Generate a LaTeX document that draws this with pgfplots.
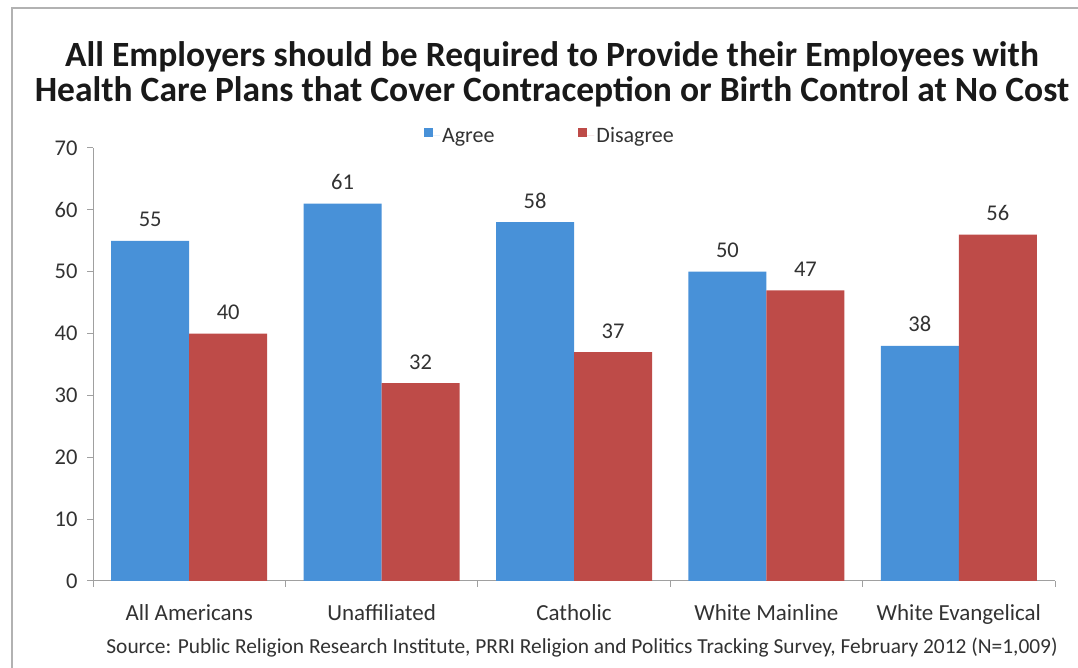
\documentclass[border=0pt]{standalone}
\usepackage{fontspec}
\setmainfont{Carlito}
\usepackage{pgfplots}
\pgfplotsset{compat=1.18}
\definecolor{agree}{RGB}{72,145,216}
\definecolor{disagree}{RGB}{190,75,72}
\definecolor{axisgray}{RGB}{160,160,160}
\definecolor{txt}{RGB}{50,50,50}
\begin{document}
\begin{tikzpicture}
\useasboundingbox (0pt,0pt) rectangle (1078pt,668pt);
\draw[gray!60, line width=1.5pt] (12pt,-5pt) -- (12pt,660pt) -- (1090pt,660pt);
\node[anchor=base, font=\fontsize{35.5}{40}\selectfont\bfseries, text=black!90] at (552pt,601pt) {All Employers should be Required to Provide their Employees with};
\node[anchor=base, font=\fontsize{35.5}{40}\selectfont\bfseries, text=black!90] at (552pt,566pt) {Health Care Plans that Cover Contraception or Birth Control at No Cost};
\node[anchor=base, font=\fontsize{21.4}{24}\selectfont, text=txt] at (582pt,14pt) {Source: Public Religion Research Institute, PRRI Religion and Politics Tracking Survey, February 2012 (N=1,009)};
\begin{axis}[
  at={(93pt,87pt)}, anchor=south west,
  scale only axis, width=962pt, height=433pt,
  ymin=0, ymax=70, ytick={0,10,...,70},
  xmin=-0.5, xmax=4.5,
  xtick={-0.5,0.5,1.5,2.5,3.5,4.5},
  xticklabels={},
  extra x ticks={0,1,2,3,4},
  extra x tick labels={All Americans,Unaffiliated,Catholic,White Mainline,White Evangelical},
  extra x tick style={major tick length=0pt, xticklabel style={font=\fontsize{23}{26}\selectfont, yshift=-20pt}},
  axis lines*=left,
  axis line style={axisgray, line width=1pt, -},
  tick align=outside,
  major tick length=6pt,
  tick style={axisgray, line width=1pt},
  tick label style={font=\fontsize{22.5}{26}\selectfont, text=txt},
  /pgf/number format/assume math mode=true,
  yticklabel style={xshift=-6pt},
  ybar=0pt, bar width=78pt,
  nodes near coords,
  nodes near coords style={font=\fontsize{22.5}{26}\selectfont, text=txt, anchor=base, yshift=14pt},
  legend columns=2,
  legend style={draw=none, fill=none, at={(0.344,1.028)}, anchor=west, inner sep=0pt,
    font=\fontsize{22}{26}\selectfont, text=txt,
    /tikz/every even column/.append style={column sep=82pt}},
  legend image code/.code={\fill[#1] (0pt,-1pt) rectangle (9pt,8pt); \path (0pt,0pt) -- (16pt,0pt);},
  clip=false,
]
\addplot[fill=agree, draw=none] coordinates {(0,55) (1,61) (2,58) (3,50) (4,38)};
\addplot[fill=disagree, draw=none] coordinates {(0,40) (1,32) (2,37) (3,47) (4,56)};
\legend{Agree,Disagree}
\end{axis}
\end{tikzpicture}
\end{document}
